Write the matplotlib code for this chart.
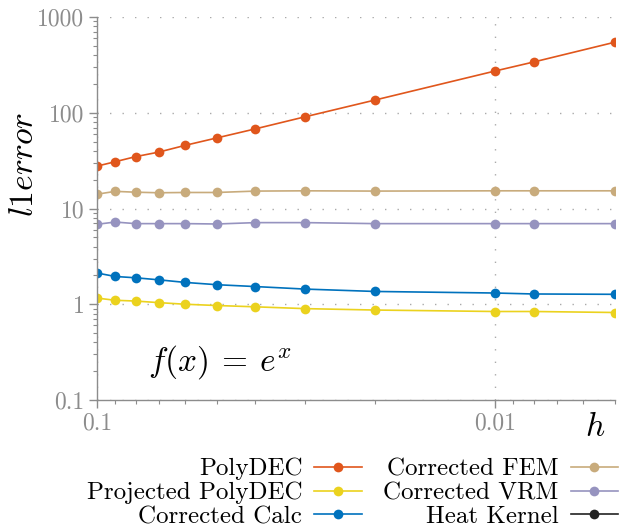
import numpy as np
import matplotlib
matplotlib.use("Agg")
import matplotlib.pyplot as plt
from matplotlib.ticker import LogLocator, NullFormatter

plt.rcParams['font.family'] = ['cmr10', 'DejaVu Serif']
plt.rcParams['mathtext.fontset'] = 'cm'
plt.rcParams['axes.unicode_minus'] = False
plt.rcParams['axes.formatter.use_mathtext'] = True

# grid sizes
h = [0.1, 0.09, 0.08, 0.07, 0.06, 0.05, 0.04, 0.03, 0.02, 0.01, 0.008, 0.005]

# l1 errors
polyDEC   = [27.7, 30.8, 34.8, 38.8, 45.7, 54.6, 67.9, 90.8, 136, 273, 339, 546]
projected = [1.16, 1.10, 1.08, 1.04, 1.00, 0.97, 0.94, 0.90, 0.87, 0.84, 0.84, 0.82]
calc      = [2.12, 1.95, 1.89, 1.80, 1.69, 1.60, 1.53, 1.44, 1.36, 1.31, 1.28, 1.27]
fem       = [14.1, 15.1, 14.8, 14.6, 14.7, 14.7, 15.2, 15.3, 15.2, 15.3, 15.3, 15.3]
vrm       = [6.84, 7.22, 6.95, 6.95, 6.95, 6.89, 7.12, 7.12, 6.95, 6.95, 6.95, 6.95]
heatKernel = []

series = [("PolyDEC", polyDEC, "#e0561c"),
          ("Projected PolyDEC", projected, "#ebd21e"),
          ("Corrected Calc", calc, "#0072bd"),
          ("Corrected FEM", fem, "#c8ab7c"),
          ("Corrected VRM", vrm, "#9693bf"),
          ("Heat Kernel", heatKernel, "#222222")]

fig = plt.figure(figsize=(6.26, 5.30), dpi=100)
ax = fig.add_axes([97/626, 1 - 400/530, 518/626, 383/530])

for name, vals, col in series:
  ax.plot(h[:len(vals)], vals, '-o', color=col, lw=1.2, ms=7, mew=0, label=name)

ax.set_xscale('log')
ax.set_yscale('log')
ax.set_xlim(0.1, 0.005)
ax.set_ylim(0.1, 1000)

ax.set_xticks([0.1, 0.01], ['0.1', '0.01'])
ax.set_yticks([0.1, 1, 10, 100, 1000], ['0.1', '1', '10', '100', '1000'])
ax.xaxis.set_minor_locator(LogLocator(base=10, subs=np.arange(2, 10)))
ax.yaxis.set_minor_locator(LogLocator(base=10, subs=np.arange(2, 10)))
ax.xaxis.set_minor_formatter(NullFormatter())
ax.yaxis.set_minor_formatter(NullFormatter())

gray = '#8c8c8c'
for s in ['top', 'right']:
  ax.spines[s].set_visible(False)
for s in ['left', 'bottom']:
  ax.spines[s].set_color(gray)
  ax.spines[s].set_linewidth(1.0)
ax.tick_params(which='major', direction='out', length=6, width=1, color=gray,
               labelcolor=gray, labelsize=17, pad=3)
ax.tick_params(which='minor', direction='out', length=3, width=0.8, color=gray)
ax.grid(which='major', linestyle=(0, (1, 8)), color='#aaaaaa', lw=1)

fig.text(24/626, 1 - 165/530, r'$l1error$', rotation=90, ha='center',
         va='center', fontsize=24)
fig.text(595/626, 1 - 427/530, r'$h$', ha='center', va='center', fontsize=24)
fig.text(220/626, 1 - 362/530, r'$f(x)\:=\:e^x$', ha='center', va='center',
         fontsize=24)

fig.legend(loc='upper right', bbox_to_anchor=(618/626, 1 - 458/530), ncol=2,
           markerfirst=False, frameon=False, fontsize=18, borderpad=0,
           borderaxespad=0, handlelength=1.9, handletextpad=0.47,
           columnspacing=0.87, labelspacing=0.05, numpoints=1)

fig.savefig("out.png", dpi=100)
